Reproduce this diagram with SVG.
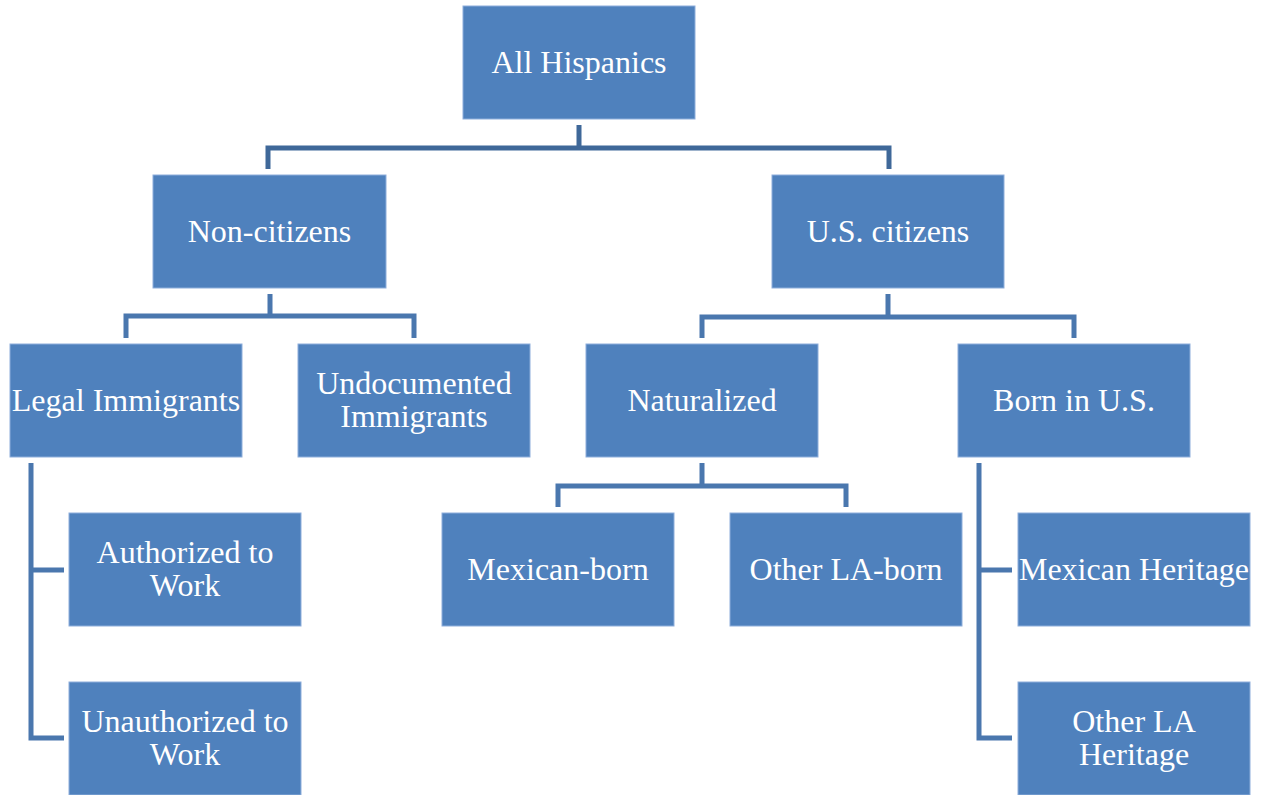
<svg xmlns="http://www.w3.org/2000/svg" width="1262" height="795" viewBox="0 0 1262 795">
<style>
.box{fill:#4f81bd;stroke:#8eaedb;stroke-width:1}
.t{font-family:'Liberation Serif','Times New Roman',Tinos,'DejaVu Serif',serif;font-size:32px;fill:#ffffff;text-anchor:middle}
.c{fill:none;stroke:#4a77ae;stroke-width:5;stroke-linejoin:miter;stroke-linecap:butt}
.c1{stroke:#3f6899}
</style>
<rect width="1262" height="795" fill="#ffffff"/>
<g id="connectors">
<path class="c c1" d="M579,125 V148 M268,169 V148 H889 V169"/>
<path class="c" d="M270,294 V316 M126,338 V316 H414 V338"/>
<path class="c" d="M888,294 V317 M702,338 V317 H1074 V338"/>
<path class="c" d="M702,463 V486 M558,507 V486 H846 V507"/>
<path class="c" d="M31,463 V738 H64 M31,570 H64"/>
<path class="c" d="M979,463 V738 H1012 M979,570 H1012"/>
</g>
<g id="all-hispanics"><rect class="box" x="463" y="6" width="232" height="113"/><text class="t" x="579" y="73">All Hispanics</text></g>
<g id="non-citizens"><rect class="box" x="153" y="175" width="233" height="113"/><text class="t" x="269.5" y="242">Non-citizens</text></g>
<g id="us-citizens"><rect class="box" x="772" y="175" width="232" height="113"/><text class="t" x="888" y="242">U.S. citizens</text></g>
<g id="legal-immigrants"><rect class="box" x="10" y="344" width="232" height="113"/><text class="t" x="126" y="411">Legal Immigrants</text></g>
<g id="undocumented-immigrants"><rect class="box" x="298" y="344" width="232" height="113"/><text class="t" x="414" y="394">Undocumented</text><text class="t" x="414" y="427">Immigrants</text></g>
<g id="naturalized"><rect class="box" x="586" y="344" width="232" height="113"/><text class="t" x="702" y="411">Naturalized</text></g>
<g id="born-in-us"><rect class="box" x="958" y="344" width="232" height="113"/><text class="t" x="1074" y="411">Born in U.S.</text></g>
<g id="authorized"><rect class="box" x="69" y="513" width="232" height="113"/><text class="t" x="185" y="563">Authorized to</text><text class="t" x="185" y="596">Work</text></g>
<g id="unauthorized"><rect class="box" x="69" y="682" width="232" height="113"/><text class="t" x="185" y="732">Unauthorized to</text><text class="t" x="185" y="765">Work</text></g>
<g id="mexican-born"><rect class="box" x="442" y="513" width="232" height="113"/><text class="t" x="558" y="580">Mexican-born</text></g>
<g id="other-la-born"><rect class="box" x="730" y="513" width="232" height="113"/><text class="t" x="846" y="580">Other LA-born</text></g>
<g id="mexican-heritage"><rect class="box" x="1018" y="513" width="232" height="113"/><text class="t" x="1134" y="580">Mexican Heritage</text></g>
<g id="other-la-heritage"><rect class="box" x="1018" y="682" width="232" height="113"/><text class="t" x="1134" y="732">Other LA</text><text class="t" x="1134" y="765">Heritage</text></g>
</svg>
